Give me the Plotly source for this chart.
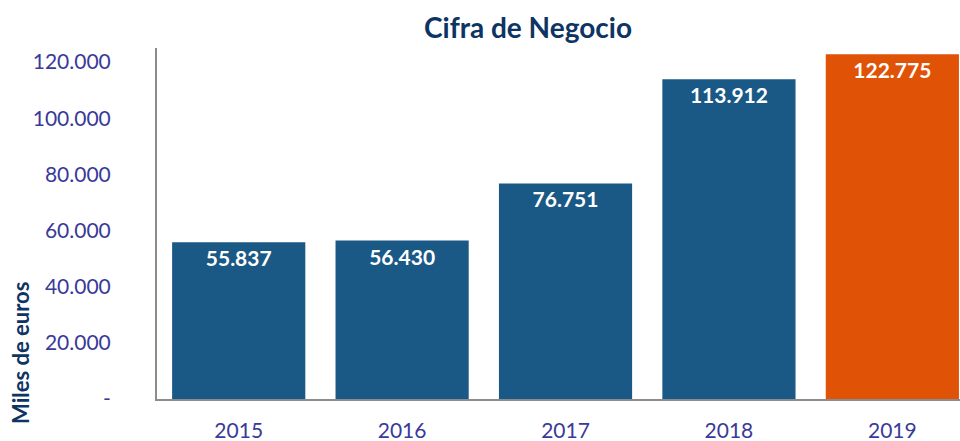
import plotly.graph_objects as go

years = ["2015", "2016", "2017", "2018", "2019"]
values = [55837, 56430, 76751, 113912, 122775]
bar_colors = ["#1A5886", "#1A5886", "#1A5886", "#1A5886", "#E05206"]
tick_vals = [0, 20000, 40000, 60000, 80000, 100000, 120000]
tick_text = ["-", "20.000", "40.000", "60.000", "80.000", "100.000", "120.000"]


def fmt(v):
    # thousands separator with a dot, Spanish style
    return f"{v:,}".replace(",", ".")


fig = go.Figure(
    go.Bar(
        x=years,
        y=values,
        marker=dict(color=bar_colors, line=dict(width=0)),
        text=[fmt(v) for v in values],
        textposition="inside",
        insidetextanchor="end",
        textfont=dict(family="Lato", size=21, color="white", weight="bold"),
        textangle=0,
        cliponaxis=False,
    )
)

fig.update_layout(
    width=960,
    height=441,
    margin=dict(l=157, r=0, t=48, b=42, autoexpand=False),
    paper_bgcolor="white",
    plot_bgcolor="white",
    bargap=0.185,
    showlegend=False,
    title=dict(
        text="<b>Cifra de Negocio</b>",
        x=528 / 960,
        xanchor="center",
        y=1 - 28 / 441,
        yanchor="middle",
        font=dict(family="Lato", size=28, color="#0E3463"),
    ),
    xaxis=dict(
        type="category",
        range=[-0.5, 4.414],
        automargin=False,
        showline=True,
        linecolor="#8C8C8C",
        linewidth=2,
        ticks="",
        showgrid=False,
        tickfont=dict(family="Lato", size=21, color="#3A3A98"),
        ticklabelstandoff=12,
    ),
    yaxis=dict(
        range=[0, 125000],
        automargin=False,
        tickvals=tick_vals,
        ticktext=tick_text,
        showline=True,
        linecolor="#8C8C8C",
        linewidth=2,
        showgrid=False,
        zeroline=False,
        ticks="",
        tickfont=dict(family="Lato", size=21, color="#3A3A98"),
        ticklabelstandoff=40,
    ),
    annotations=[
        dict(
            text="<b>Miles de euros</b>",
            textangle=-90,
            xref="paper",
            yref="paper",
            x=-137 / 803,
            y=(399 - 353) / 351,
            xanchor="center",
            yanchor="middle",
            showarrow=False,
            font=dict(family="Lato", size=22, color="#0E3463"),
        )
    ],
)

# drop the default page margin so the figure sits at the window corner
fig.write_html(
    "out.html",
    config={"displayModeBar": False},
    post_script="document.body.style.margin='0';",
)
